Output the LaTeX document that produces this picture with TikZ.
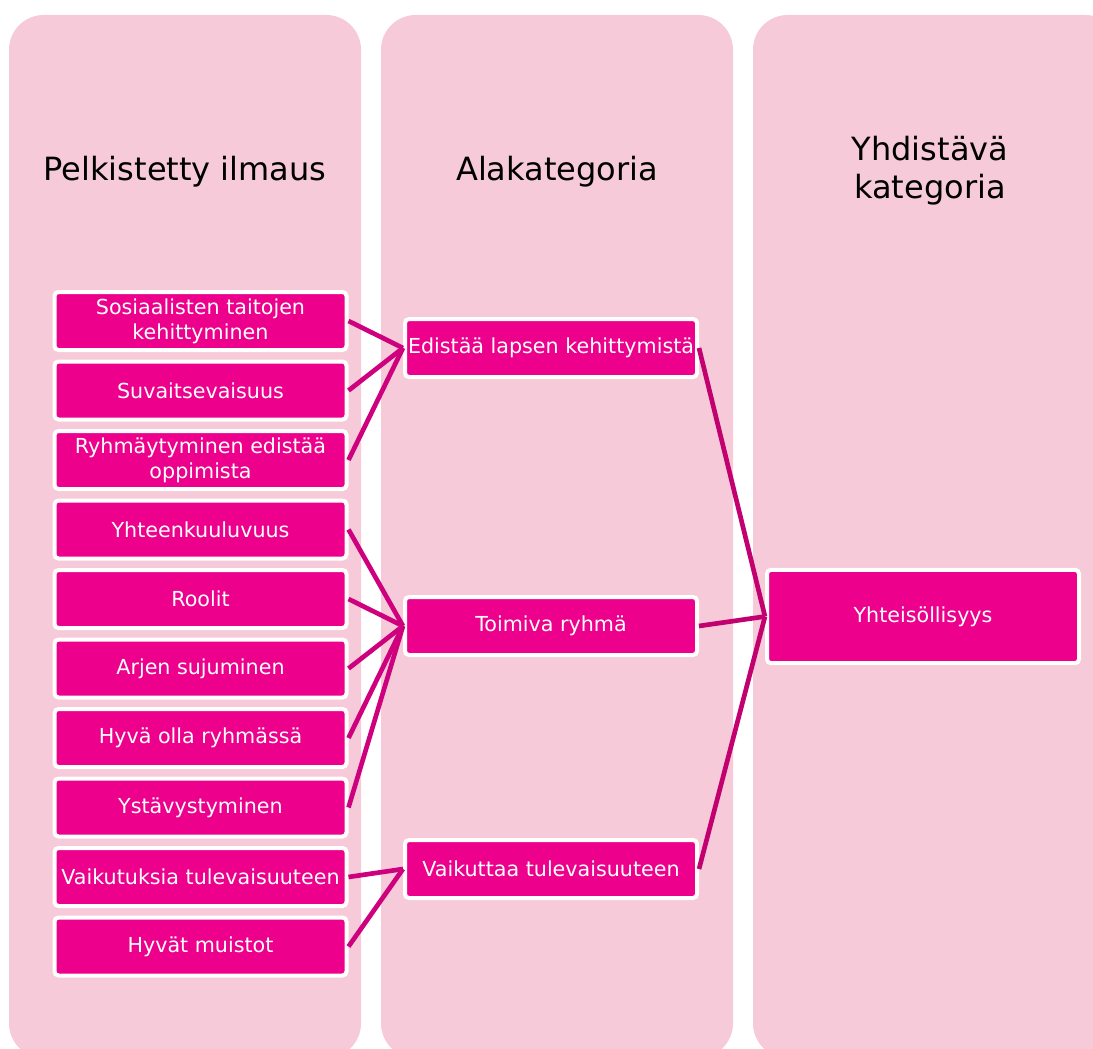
\documentclass[tikz,border=0pt]{standalone}
\usepackage{fontspec}
\setmainfont{DejaVu Sans}
\definecolor{ColumnPink}{HTML}{F6CAD8}
\definecolor{BoxMagenta}{HTML}{EC008C}
\definecolor{LinkMagenta}{HTML}{CE007E}
\definecolor{LinkDark}{HTML}{C2006F}
\tikzset{
  column/.style={fill=ColumnPink, rounded corners=26pt},
  heading/.style={font=\fontsize{24}{28.5}\selectfont, align=center, text=black},
  itembox/.style={draw=white, line width=3pt, fill=BoxMagenta, rounded corners=3pt,
    text=white, font=\fontsize{15.5}{19}\selectfont, align=center, inner sep=1pt,
    minimum width=219pt, minimum height=43.5pt},
  link/.style={LinkMagenta, line width=3.5pt},
}
\begin{document}
\begin{tikzpicture}[x=0.75pt, y=-0.75pt]
    \useasboundingbox (0,0) rectangle (1093,1049);

    % Background columns (bottom runs past the page)
    \fill[column] (9,15) rectangle (361,1058);
    \fill[column] (381,15) rectangle (733,1058);
    \fill[column] (753,15) rectangle (1120,1058);

    % Column headings
    \node[heading] (headLeft) at (185,172) {Pelkistetty ilmaus};
    \node[heading] (headMid) at (557,172) {Alakategoria};
    \node[heading] (headRight) at (930,171) {Yhdistävä\\kategoria};

    % Reduced expressions (left column)
    \node[itembox] (sosiaaliset) at (200.5,321) {Sosiaalisten taitojen\\kehittyminen};
    \node[itembox] (suvaitsevaisuus) at (200.5,390.5) {Suvaitsevaisuus};
    \node[itembox] (ryhmaytyminen) at (200.5,460) {Ryhmäytyminen edistää\\oppimista};
    \node[itembox] (yhteenkuuluvuus) at (200.5,529.5) {Yhteenkuuluvuus};
    \node[itembox] (roolit) at (200.5,599) {Roolit};
    \node[itembox] (arki) at (200.5,668.5) {Arjen sujuminen};
    \node[itembox] (hyvaolla) at (200.5,738) {Hyvä olla ryhmässä};
    \node[itembox] (ystavystyminen) at (200.5,807.5) {Ystävystyminen};
    \node[itembox] (vaikutuksia) at (200.5,877) {Vaikutuksia tulevaisuuteen};
    \node[itembox] (muistot) at (200.5,946.5) {Hyvät muistot};

    % Subcategories (middle column)
    \node[itembox] (edistaa) at (551,348) {Edistää lapsen kehittymistä};
    \node[itembox] (toimiva) at (551,626) {Toimiva ryhmä};
    \node[itembox] (vaikuttaa) at (551,869) {Vaikuttaa tulevaisuuteen};

    % Combining category (right column)
    \node[itembox, minimum width=234pt, minimum height=70pt] (yhteisollisyys) at (923,616.5) {Yhteisöllisyys};

    % Links left -> middle
    \draw[link] (sosiaaliset.east) -- (edistaa.west);
    \draw[link] (suvaitsevaisuus.east) -- (edistaa.west);
    \draw[link] (ryhmaytyminen.east) -- (edistaa.west);
    \draw[link] (yhteenkuuluvuus.east) -- (toimiva.west);
    \draw[link] (roolit.east) -- (toimiva.west);
    \draw[link] (arki.east) -- (toimiva.west);
    \draw[link] (hyvaolla.east) -- (toimiva.west);
    \draw[link] (ystavystyminen.east) -- (toimiva.west);
    \draw[link] (vaikutuksia.east) -- (vaikuttaa.west);
    \draw[link] (muistot.east) -- (vaikuttaa.west);

    % Links middle -> right
    \draw[link, LinkDark] (edistaa.east) -- (yhteisollisyys.west);
    \draw[link, LinkDark] (toimiva.east) -- (yhteisollisyys.west);
    \draw[link, LinkDark] (vaikuttaa.east) -- (yhteisollisyys.west);

\end{tikzpicture}
\end{document}
